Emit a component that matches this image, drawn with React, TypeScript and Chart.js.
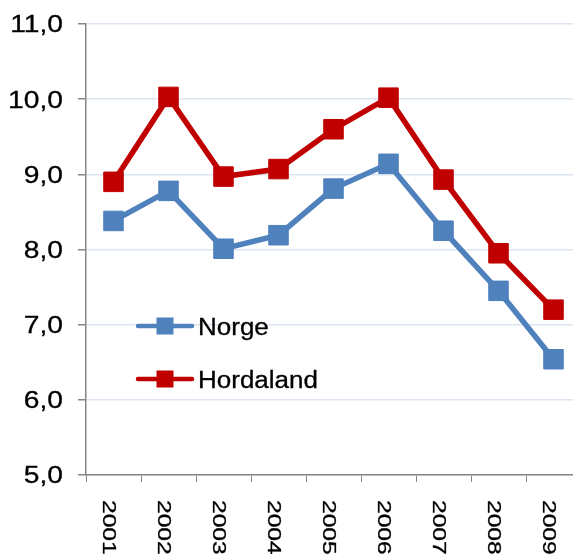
import React, { useEffect, useRef } from 'react';
import { Chart, registerables } from 'chart.js';

Chart.register(...registerables);

const years = ['2001', '2002', '2003', '2004', '2005', '2006', '2007', '2008', '2009'];
const norge = [8.38, 8.78, 8.01, 8.19, 8.81, 9.14, 8.25, 7.45, 6.54];
const hordaland = [8.9, 10.03, 8.97, 9.07, 9.6, 10.02, 8.93, 7.95, 7.2];
const seriesNames = ['Norge', 'Hordaland'];
const seriesColors = ['#4F81BD', '#C00000'];
const yMin = 5;
const yMax = 11;
const yStep = 1;

const FONT = '"Liberation Sans", Arial, sans-serif';

const fmt = (v: number) => v.toFixed(1).replace('.', ',');

function drawText(ctx: CanvasRenderingContext2D, text: string) {
  ctx.fillText(text, 0, 0);
  ctx.strokeText(text, 0, 0);
}

const textPlugin = {
  id: 'customText',
  afterDraw(chart: any) {
    const ctx = chart.ctx as CanvasRenderingContext2D;
    const ys = chart.scales.y;
    const xs = chart.scales.x;
    ctx.save();
    ctx.fillStyle = '#000000';
    ctx.strokeStyle = '#000000';
    ctx.lineWidth = 0.3;
    // y tick labels
    ctx.font = `23.5px ${FONT}`;
    ctx.textAlign = 'right';
    ctx.textBaseline = 'alphabetic';
    ys.ticks.forEach((t: any, i: number) => {
      const py = ys.getPixelForTick(i);
      ctx.save();
      ctx.translate(ys.right - 23, py + 8.4);
      ctx.scale(1.2, 1);
      drawText(ctx, fmt(t.value));
      ctx.restore();
    });
    // x tick labels, rotated clockwise
    ctx.font = `18.5px ${FONT}`;
    ctx.textAlign = 'left';
    xs.ticks.forEach((t: any, i: number) => {
      const px = xs.getPixelForTick(i);
      ctx.save();
      ctx.translate(px - 10.8, xs.top + 25);
      ctx.rotate(Math.PI / 2);
      ctx.scale(1.33, 1);
      drawText(ctx, xs.getLabelForValue(t.value));
      ctx.restore();
    });
    ctx.restore();
    // legend inside plot
    const rows = [326, 379];
    chart.data.datasets.forEach((ds: any, i: number) => {
      const ly = rows[i];
      ctx.save();
      ctx.strokeStyle = ds.borderColor;
      ctx.lineWidth = 4.5;
      ctx.lineCap = 'round';
      ctx.beginPath();
      ctx.moveTo(138, ly);
      ctx.lineTo(192, ly);
      ctx.stroke();
      ctx.fillStyle = ds.borderColor;
      ctx.fillRect(165 - 8.5, ly - 8.5, 17, 17);
      ctx.fillStyle = '#000000';
      ctx.strokeStyle = '#000000';
      ctx.lineWidth = 0.3;
      ctx.font = `23px ${FONT}`;
      ctx.textAlign = 'left';
      ctx.textBaseline = 'alphabetic';
      ctx.translate(198, ly + 8.5);
      ctx.scale(1.13, 1);
      drawText(ctx, ds.label);
      ctx.restore();
    });
  },
};

export default function App() {
  const ref = useRef<HTMLCanvasElement | null>(null);
  useEffect(() => {
    if (!ref.current) return;
    const chart = new Chart(ref.current, {
      type: 'line',
      data: {
        labels: years,
        datasets: [norge, hordaland].map((d, i) => ({
          label: seriesNames[i],
          data: d,
          borderColor: seriesColors[i],
          backgroundColor: seriesColors[i],
          borderWidth: 5.5,
          pointStyle: 'rect',
          pointRadius: 13.8,
          pointHoverRadius: 13.8,
          pointBorderWidth: 1,
          pointBorderColor: seriesColors[i],
          pointBackgroundColor: seriesColors[i],
          tension: 0,
          fill: false,
        })),
      },
      options: {
        responsive: false,
        animation: false,
        devicePixelRatio: 1,
        layout: { padding: { left: 0, top: 24, right: 19, bottom: 0 } },
        plugins: {
          legend: { display: false },
          tooltip: { enabled: false },
        },
        scales: {
          x: {
            type: 'category',
            offset: true,
            grid: {
              display: true,
              offset: true,
              drawOnChartArea: false,
              drawTicks: true,
              tickLength: 7,
              color: '#868686',
              tickColor: '#868686',
            },
            border: { display: true, color: '#868686', width: 1.5 },
            ticks: { display: false },
            afterFit: (s: any) => {
              s.height = 79;
            },
          },
          y: {
            min: yMin,
            max: yMax,
            grid: {
              color: '#DCE5F1',
              lineWidth: 1.5,
              tickColor: '#868686',
              tickLength: 8,
              drawTicks: true,
            },
            border: { display: true, color: '#868686', width: 1.5 },
            ticks: { display: false, stepSize: yStep },
            afterFit: (s: any) => {
              s.width = 86;
            },
          },
        },
      },
      plugins: [textPlugin],
    } as any);
    return () => chart.destroy();
  }, []);
  return (
    <div
      style={{
        position: 'absolute',
        left: 0,
        top: 0,
        width: 573,
        height: 554,
        overflow: 'hidden',
        background: '#ffffff',
      }}
    >
      <canvas ref={ref} width={600} height={554} style={{ display: 'block' }} />
    </div>
  );
}
